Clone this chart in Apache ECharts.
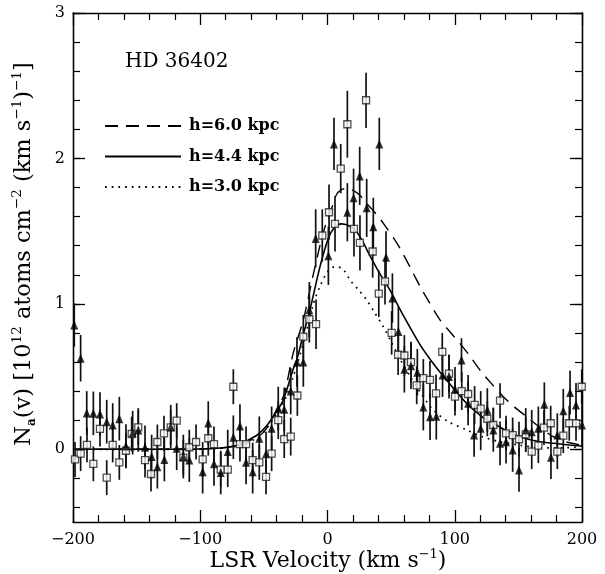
<!DOCTYPE html>
<html>
<head>
<meta charset="utf-8">
<script src="https://cdn.jsdelivr.net/npm/echarts@6/dist/echarts.min.js"></script>
<style>
html,body{margin:0;padding:0;background:#fff;}
#c{width:605px;height:574px;}
</style>
</head>
<body>
<div id="c"></div>
<script>
// ---- data ----
const sqV = [-198.4,-194,-189,-184,-178.8,-173.5,-168.8,-163.6,-158.4,-153.9,-148.7,-143.4,-138.7,-133.7,-128.5,-123.2,-118.5,-113.3,-108.6,-103.3,-98.1,-93.7,-89.2,-83.9,-78.4,-74,-68.8,-64,-58.8,-53.6,-48.3,-43.9,-38.7,-34,-28.9,-23.7,-19,-14.3,-9,-4.1,1.2,5.9,10.4,15.6,20.8,25.5,30.3,35.5,40.3,45.2,50.4,55.5,60.4,65.6,70.1,75.3,80.5,85.3,90.2,95.5,100.2,105.5,110.5,115.6,120.4,125.6,130.3,135.6,140.3,145.5,150.5,155.8,160.5,165.7,170.1,175.4,180.6,185.3,190,195.3,199.8];
const sqN = [-0.07,-0.03,0.03,-0.1,0.14,-0.195,0.03,-0.09,-0.01,0.105,0.15,-0.074,-0.17,0.05,0.11,0.15,0.197,-0.058,0.014,0.05,-0.07,0.076,0.036,-0.14,-0.14,0.43,0.036,0.036,-0.074,-0.09,-0.19,-0.03,0.2,0.07,0.087,0.37,0.774,0.894,0.86,1.47,1.63,1.55,1.93,2.235,1.515,1.42,2.40,1.36,1.07,1.155,0.80,0.65,0.645,0.60,0.44,0.49,0.477,0.385,0.67,0.52,0.362,0.40,0.38,0.305,0.28,0.21,0.167,0.334,0.11,0.098,0.069,0.103,-0.016,0.025,0.149,0.179,-0.016,0.094,0.179,0.179,0.43];
const sqE = [0.12,0.12,0.12,0.12,0.12,0.12,0.12,0.12,0.12,0.12,0.12,0.12,0.12,0.12,0.12,0.12,0.12,0.12,0.12,0.12,0.12,0.12,0.12,0.12,0.12,0.12,0.12,0.12,0.12,0.12,0.12,0.12,0.13,0.13,0.13,0.14,0.15,0.16,0.17,0.18,0.19,0.19,0.17,0.23,0.19,0.19,0.19,0.18,0.16,0.16,0.15,0.14,0.14,0.14,0.13,0.13,0.13,0.13,0.13,0.13,0.13,0.13,0.13,0.13,0.12,0.12,0.12,0.12,0.12,0.12,0.12,0.12,0.12,0.12,0.12,0.12,0.12,0.12,0.12,0.12,0.12];

const triV = [-199,-194,-189.2,-184,-178.8,-173.5,-168.8,-163.6,-158.4,-153.1,-148.7,-143.4,-138.2,-133.7,-128.2,-123.2,-118.5,-113.3,-108.6,-98.1,-93.7,-89.2,-83.9,-78.4,-74,-68.8,-64,-58.8,-53.6,-48.3,-43.9,-38.7,-34,-28.9,-24,-19,-14.3,-9.3,0.7,5.1,15.6,20.5,25.3,30.8,36,40.7,46,51,55.7,60.4,65.6,70.6,75.3,80.6,85.5,90.4,95.5,100.2,105.3,110.5,115.2,120.4,125.6,130.3,135.6,140.3,145.5,150.5,155.8,160.5,165.7,170.4,175.6,180.6,185.3,190.6,195.3,200];
const triN = [0.855,0.626,0.25,0.247,0.243,0.19,0.167,0.21,0.023,0.114,0.133,0.014,-0.05,-0.12,-0.07,0.155,0.007,-0.05,-0.074,-0.154,0.18,-0.1,-0.16,-0.016,0.083,0.16,-0.09,-0.154,0.076,-0.03,0.144,0.28,0.275,0.4,0.6,0.6,0.96,1.45,1.33,2.10,1.63,1.73,1.88,1.66,1.53,2.10,1.32,1.04,0.81,0.55,0.575,0.53,0.29,0.224,0.227,0.51,0.5,0.415,0.614,0.316,0.098,0.144,0.27,0.133,0.041,0.052,-0.005,-0.142,0.133,0.121,0.144,0.31,-0.055,0.098,0.265,0.39,0.305,0.167];
const triE = [0.15,0.16,0.15,0.15,0.15,0.15,0.15,0.15,0.15,0.15,0.15,0.15,0.15,0.15,0.15,0.15,0.15,0.15,0.15,0.15,0.15,0.15,0.15,0.15,0.15,0.15,0.15,0.15,0.15,0.15,0.15,0.15,0.15,0.16,0.17,0.17,0.19,0.2,0.2,0.18,0.2,0.2,0.2,0.2,0.2,0.18,0.18,0.17,0.17,0.16,0.16,0.16,0.16,0.16,0.16,0.15,0.15,0.15,0.15,0.15,0.15,0.15,0.15,0.15,0.15,0.15,0.15,0.15,0.15,0.15,0.15,0.15,0.15,0.15,0.15,0.15,0.15,0.15];

const dashV = [-200,-110,-90,-80,-70,-60,-50,-40,-34,-27,-19,-11,-3,3,7,11,15,20,25,30.8,38,43.9,54.4,59.6,67.4,72.7,80,88.4,96,104,112,119.8,128,138.2,147,156.5,167,177.4,188,198.4,200];
const dashN = [0,0,0.005,0.012,0.03,0.065,0.12,0.27,0.38,0.66,0.89,1.21,1.5,1.65,1.75,1.785,1.795,1.78,1.75,1.69,1.62,1.554,1.42,1.34,1.21,1.12,1.01,0.89,0.81,0.729,0.64,0.545,0.46,0.362,0.29,0.224,0.15,0.087,0.05,0.03,0.028];
const solidV = [-200,-110,-90,-80,-70,-63,-55,-48,-40,-34.7,-27,-24,-19,-13.8,-5.9,0.6,5,11,16,21.6,27,33.4,41,49,59,72.7,84,97,110,122,130.3,140,151.3,165,177.4,190,200];
const solidN = [0,0,0.005,0.012,0.03,0.06,0.1,0.16,0.26,0.34,0.55,0.62,0.79,0.958,1.256,1.45,1.52,1.55,1.54,1.508,1.44,1.33,1.21,1.096,0.93,0.72,0.58,0.44,0.31,0.22,0.179,0.13,0.087,0.055,0.041,0.03,0.023];
const dotV = [-200,-110,-90,-80,-70,-60,-50,-42.6,-34.7,-26.9,-19,-11.1,-5.9,0,6,12,17.7,24,30.8,37,43.9,50,57,65,73,83.1,95,109.4,122,135.6,150,167,185,200];
const dotN = [0,0,0.003,0.01,0.025,0.055,0.12,0.21,0.316,0.5,0.73,1.0,1.12,1.22,1.256,1.24,1.164,1.1,1.027,0.94,0.843,0.74,0.62,0.5,0.39,0.27,0.19,0.133,0.085,0.052,0.03,0.01,0.01,0.02];

const modelNames = ['h=6.0 kpc','h=4.4 kpc','h=3.0 kpc'];
const xTicks = [-200,-100,0,100,200];
const yMajor = [0,1,2,3];
const yMinor = [-0.4,-0.2,0,0.2,0.4,0.6,0.8,1,1.2,1.4,1.6,1.8,2,2.2,2.4,2.6,2.8,3];
const starName = 'HD 36402';

// ---- build ----
const zip = (a,b) => a.map((v,i)=>[v,b[i]]);
const errData = (v,n,e) => v.map((x,i)=>[x, n[i]-e[i], n[i]+e[i]]);
const FONT = 'DejaVu Serif';

const chart = echarts.init(document.getElementById('c'), null, {renderer:'canvas'});

const axBase = {
  type:'value', min:-200, max:200, interval:100,
  axisLine:{show:true, onZero:false, lineStyle:{color:'#000', width:1.3}},
  splitLine:{show:false},
};
const yBase = {
  type:'value', min:-0.5, max:3,
  axisLine:{show:true, onZero:false, lineStyle:{color:'#000', width:1.3}},
  splitLine:{show:false},
};

function errRender(params, api){
  const x = api.value(0);
  const p1 = api.coord([x, api.value(1)]);
  const p2 = api.coord([x, api.value(2)]);
  return {type:'line', shape:{x1:p1[0], y1:p1[1], x2:p2[0], y2:p2[1]}, style:{stroke:'#111', lineWidth:1.7}};
}

const lineCommon = {type:'line', symbol:'none', smooth:0.3, z:2, silent:true, animation:false, color:'#000'};

chart.setOption({
  backgroundColor:'#fff',
  animation:false,
  color:['#000','#000','#000'],
  grid:{left:73, right:23, top:13, bottom:52, show:false},
  xAxis:[
    Object.assign({}, axBase, {position:'bottom',
      axisTick:{show:true, inside:true, length:12, lineStyle:{color:'#000', width:1.3}},
      minorTick:{show:true, splitNumber:5, length:7, lineStyle:{color:'#000', width:1.2}},
      axisLabel:{show:true, color:'#000', fontFamily:FONT, fontSize:16, margin:10,
        customValues:xTicks, formatter:v=>String(v).replace('-','\u2212')}}),
    Object.assign({}, axBase, {position:'top',
      axisTick:{show:true, inside:true, length:12, lineStyle:{color:'#000', width:1.3}},
      minorTick:{show:true, splitNumber:5, length:7, lineStyle:{color:'#000', width:1.2}},
      axisLabel:{show:false}})
  ],
  yAxis:[
    Object.assign({}, yBase, {position:'left',
      axisTick:{show:true, inside:true, length:12, customValues:yMajor, lineStyle:{color:'#000', width:1.3}},
      axisLabel:{show:true, color:'#000', fontFamily:FONT, fontSize:16, margin:8, customValues:yMajor}}),
    Object.assign({}, yBase, {position:'left',
      axisTick:{show:true, inside:true, length:7, customValues:yMinor, lineStyle:{color:'#000', width:1.2}},
      axisLabel:{show:false}}),
    Object.assign({}, yBase, {position:'right',
      axisTick:{show:true, inside:true, length:12, customValues:yMajor, lineStyle:{color:'#000', width:1.3}},
      axisLabel:{show:false}}),
    Object.assign({}, yBase, {position:'right',
      axisTick:{show:true, inside:true, length:7, customValues:yMinor, lineStyle:{color:'#000', width:1.2}},
      axisLabel:{show:false}})
  ],
  legend:{
    orient:'vertical', left:99, top:113, itemWidth:76, itemHeight:14, itemGap:14.5,
    data:modelNames, selectedMode:false,
    itemStyle:{opacity:0},
    textStyle:{color:'#000', fontFamily:FONT, fontSize:16, fontWeight:'bold', padding:[0,0,0,3]}
  },
  graphic:[
    {type:'text', left:125, top:52, style:{text:starName, fill:'#000', font:'20px "DejaVu Serif"'}},
    {type:'text', x:328, y:561, style:{
      text:'{b|LSR Velocity (km s}{s|\u22121}{b|)}', align:'center', verticalAlign:'middle',
      rich:{b:{fontFamily:FONT, fontSize:22, fill:'#000', lineHeight:26, verticalAlign:'middle'},
            s:{fontFamily:FONT, fontSize:13, fill:'#000', lineHeight:26, verticalAlign:'top'}}}},
    {type:'text', x:24, y:254, rotation:Math.PI/2, style:{
      text:'{b|N}{u|a}{b|(v) [10}{s|12}{b| atoms cm}{s|\u22122}{b| (km s}{s|\u22121}{b|)}{s|\u22121}{b|]}',
      align:'center', verticalAlign:'middle',
      rich:{b:{fontFamily:FONT, fontSize:22.5, fill:'#000', lineHeight:28, verticalAlign:'middle'},
            s:{fontFamily:FONT, fontSize:13.5, fill:'#000', lineHeight:28, verticalAlign:'top'},
            u:{fontFamily:FONT, fontSize:12, fill:'#000', lineHeight:28, verticalAlign:'bottom', fontWeight:'bold'}}}}
  ],
  series:[
    Object.assign({}, lineCommon, {name:modelNames[0], data:zip(dashV,dashN), lineStyle:{color:'#000', width:1.4, type:[13,8]}}),
    Object.assign({}, lineCommon, {name:modelNames[1], data:zip(solidV,solidN), lineStyle:{color:'#000', width:1.6, type:'solid'}}),
    Object.assign({}, lineCommon, {name:modelNames[2], data:zip(dotV,dotN), lineStyle:{color:'#000', width:1.7, type:[1.7,5]}}),
    {type:'custom', renderItem:errRender, data:errData(sqV,sqN,sqE), encode:{x:0,y:[1,2]}, z:3, silent:true, clip:true},
    {type:'custom', renderItem:errRender, data:errData(triV,triN,triE), encode:{x:0,y:[1,2]}, z:3, silent:true, clip:true},
    {type:'scatter', data:zip(sqV,sqN), symbol:'rect', symbolSize:7, z:4, silent:true,
      itemStyle:{color:'#fff', borderColor:'#222', borderWidth:1.3}},
    {type:'scatter', data:zip(triV,triN), symbol:'triangle', symbolSize:[8,9], z:4, silent:true,
      itemStyle:{color:'#000'}}
  ]
});
</script>
</body>
</html>
